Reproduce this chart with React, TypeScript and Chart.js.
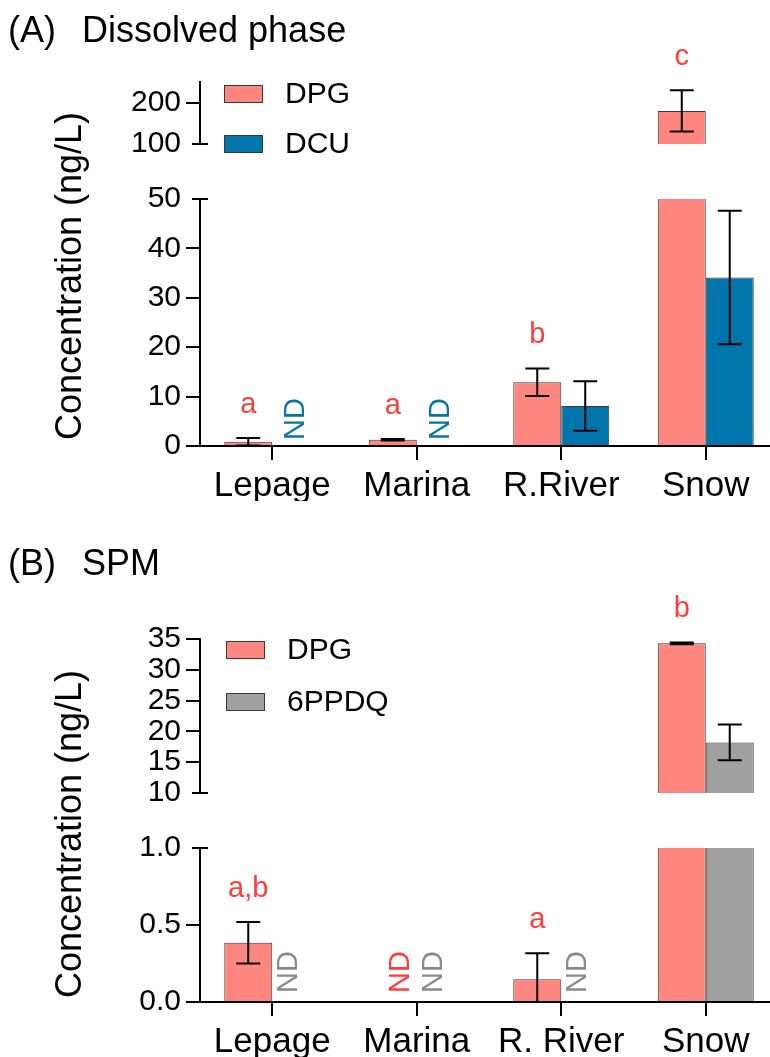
import React, { useEffect, useRef } from 'react';
import { Chart, registerables } from 'chart.js';

Chart.register(...registerables);

// ---------------- data ----------------
const categoriesA = ['Lepage', 'Marina', 'R.River', 'Snow'];
const dpgA = [0.85, 1.25, 12.9, 180];
const dpgSdA = [0.75, 0.15, 2.8, 50];
const dcuA = [null, null, 8.1, 34.1];
const dcuSdA = [0, 0, 5.0, 13.5];
const lettersA = ['a', 'a', 'b', 'c'];
const upperTicksA = [100, 200];
const lowerTicksA = [0, 10, 20, 30, 40, 50];

const categoriesB = ['Lepage', 'Marina', 'R. River', 'Snow'];
const dpgB = [0.385, null, 0.147, 34.3];
const dpgSdB = [0.135, 0, 0.17, 0.15];
const ppdqB = [null, null, null, 18.2];
const ppdqSdB = [0, 0, 0, 2.9];
const lettersB = ['a,b', '', 'a', 'b'];
const upperTicksB = [10, 15, 20, 25, 30, 35];
const lowerTicksB = [0, 0.5, 1.0];

// ---------------- styles ----------------
const FONT = "'Liberation Sans', Arial, Helvetica, sans-serif";
const COLOR_DPG = '#FF8780';
const COLOR_DCU = '#0075AB';
const COLOR_PPDQ = '#A0A0A0';
const RED_TEXT = '#FF3B3B';
const GRAY_TEXT = '#8A8A8A';
const BLUE_TEXT = '#0A74A8';

const CANVAS_W = 780;
const CANVAS_H = 1057;
const PLOT_LEFT = 200;
const PLOT_RIGHT = 778;
const Y_AXIS_W = 100;
const X_AXIS_H = 55;
const CAT_PCT = 0.664;

const panelA = {
  tag: '(A)',
  title: 'Dissolved phase',
  titleBaseline: 42,
  categories: categoriesA,
  series: [
    { label: 'DPG', values: dpgA, sd: dpgSdA, color: COLOR_DPG, ndColor: RED_TEXT },
    { label: 'DCU', values: dcuA, sd: dcuSdA, color: COLOR_DCU, ndColor: BLUE_TEXT },
  ],
  letters: lettersA,
  upper: { top: 82, bottom: 144, min: 100, max: 250, ticks: upperTicksA, decimals: 0 },
  lower: { top: 199, bottom: 446, min: 0, max: 50, ticks: lowerTicksA, decimals: 0 },
  legend: { x: 224, y: 94, gap: 50 },
  yTitleY: 276,
  nd: { shift: [0, 0], lift: 6 },
};

const panelB = {
  tag: '(B)',
  title: 'SPM',
  titleBaseline: 575,
  categories: categoriesB,
  series: [
    { label: 'DPG', values: dpgB, sd: dpgSdB, color: COLOR_DPG, ndColor: RED_TEXT },
    { label: '6PPDQ', values: ppdqB, sd: ppdqSdB, color: COLOR_PPDQ, ndColor: GRAY_TEXT },
  ],
  letters: lettersB,
  upper: { top: 639, bottom: 793, min: 10, max: 35, ticks: upperTicksB, decimals: 0 },
  lower: { top: 848, bottom: 1002, min: 0, max: 1, ticks: lowerTicksB, decimals: 1 },
  legend: { x: 226, y: 650, gap: 52 },
  yTitleY: 834,
  nd: { shift: [8, -7], lift: 9 },
};

type Panel = typeof panelA;

function drawDecor(chart: any, p: Panel, isLower: boolean) {
  const ctx: CanvasRenderingContext2D = chart.ctx;
  const area = chart.chartArea;
  const ys = chart.scales.y;
  const xs = chart.scales.x;
  const seg = isLower ? p.lower : p.upper;
  const n = p.categories.length;
  const catW = (xs.right - xs.left) / n;
  const bw = (catW * CAT_PCT) / p.series.length;
  const barX = (di: number, i: number) =>
    xs.getPixelForValue(i) + (di - (p.series.length - 1) / 2) * bw;

  // error bars
  ctx.save();
  ctx.beginPath();
  ctx.rect(area.left, area.top - 1, area.right - area.left, area.bottom - area.top + 2);
  ctx.clip();
  ctx.strokeStyle = '#000';
  ctx.lineWidth = 2;
  p.series.forEach((s, di) => {
    s.values.forEach((v: number | null, i: number) => {
      if (v == null) return;
      const sd = s.sd[i];
      if (!sd) return;
      const x = barX(di, i);
      const yt = ys.getPixelForValue(v + sd);
      const yb = ys.getPixelForValue(v - sd);
      ctx.beginPath();
      ctx.moveTo(x, yt);
      ctx.lineTo(x, yb);
      ctx.moveTo(x - 12, yt);
      ctx.lineTo(x + 12, yt);
      ctx.moveTo(x - 12, yb);
      ctx.lineTo(x + 12, yb);
      ctx.stroke();
    });
  });
  ctx.restore();

  // significance letters (DPG series)
  ctx.save();
  ctx.fillStyle = RED_TEXT;
  ctx.font = `29px ${FONT}`;
  ctx.textAlign = 'center';
  ctx.textBaseline = 'alphabetic';
  p.letters.forEach((t, i) => {
    const v = p.series[0].values[i];
    if (!t || v == null) return;
    const top = v + (p.series[0].sd[i] || 0);
    if (top < seg.min || top > seg.max) return;
    ctx.fillText(t, barX(0, i), ys.getPixelForValue(top) - 25);
  });
  ctx.restore();

  // break mark
  ctx.save();
  ctx.strokeStyle = '#000';
  ctx.lineWidth = 2;
  const by = isLower ? area.top : area.bottom;
  ctx.beginPath();
  ctx.moveTo(area.left - 8, by);
  ctx.lineTo(area.left + 8, by);
  ctx.stroke();
  ctx.restore();

  if (isLower) {
    // ND labels
    ctx.save();
    ctx.font = `29px ${FONT}`;
    ctx.textAlign = 'left';
    ctx.textBaseline = 'middle';
    p.series.forEach((s, di) => {
      s.values.forEach((v: number | null, i: number) => {
        if (v != null) return;
        ctx.save();
        ctx.fillStyle = s.ndColor;
        ctx.translate(barX(di, i) + p.nd.shift[di], area.bottom - p.nd.lift);
        ctx.rotate(-Math.PI / 2);
        ctx.fillText('ND', 0, 0);
        ctx.restore();
      });
    });
    ctx.restore();

    // y title
    ctx.save();
    ctx.fillStyle = '#000';
    ctx.font = `36px ${FONT}`;
    ctx.textAlign = 'center';
    ctx.textBaseline = 'middle';
    ctx.translate(71, p.yTitleY);
    ctx.rotate(-Math.PI / 2);
    ctx.fillText('Concentration (ng/L)', 0, 0);
    ctx.restore();
  } else {
    // legend
    ctx.save();
    ctx.font = `30px ${FONT}`;
    ctx.textAlign = 'left';
    ctx.textBaseline = 'middle';
    chart.data.datasets.forEach((ds: any, k: number) => {
      const cy = p.legend.y + k * p.legend.gap;
      ctx.fillStyle = ds.backgroundColor;
      ctx.fillRect(p.legend.x, cy - 9, 39, 18);
      ctx.strokeStyle = '#3a3a3a';
      ctx.lineWidth = 1;
      ctx.strokeRect(p.legend.x + 0.5, cy - 8.5, 38, 17);
      ctx.fillStyle = '#000';
      ctx.fillText(ds.label, p.legend.x + 61, cy + 1);
    });
    ctx.restore();

    // panel title
    ctx.save();
    ctx.fillStyle = '#000';
    ctx.font = `36px ${FONT}`;
    ctx.textAlign = 'left';
    ctx.textBaseline = 'alphabetic';
    ctx.fillText(p.tag, 8, p.titleBaseline);
    ctx.fillText(p.title, 82, p.titleBaseline);
    ctx.restore();
  }
}

function buildConfig(p: Panel, isLower: boolean): any {
  const seg = isLower ? p.lower : p.upper;
  const breakVal = isLower ? seg.max : seg.min;
  return {
    type: 'bar',
    data: {
      labels: p.categories,
      datasets: p.series.map((s) => ({
        label: s.label,
        data: s.values,
        backgroundColor: s.color,
        borderColor: '#3a3a3a',
        borderWidth: 1,
        clip: 0,
        categoryPercentage: CAT_PCT,
        barPercentage: 1,
      })),
    },
    options: {
      responsive: false,
      animation: false,
      devicePixelRatio: 1,
      layout: {
        padding: {
          left: PLOT_LEFT - Y_AXIS_W,
          right: CANVAS_W - PLOT_RIGHT,
          top: seg.top,
          bottom: CANVAS_H - seg.bottom - (isLower ? X_AXIS_H : 0),
        },
      },
      plugins: {
        legend: { display: false },
        tooltip: { enabled: false },
        title: { display: false },
      },
      scales: {
        x: {
          display: isLower,
          grid: {
            offset: false,
            drawOnChartArea: false,
            drawTicks: true,
            tickLength: 14,
            color: '#000',
            lineWidth: 2,
          },
          border: { display: true, color: '#000', width: 2, z: 1 },
          ticks: {
            color: '#000',
            font: { family: FONT, size: 35 },
            padding: 5,
            maxRotation: 0,
            autoSkip: false,
          },
          afterFit: (s: any) => {
            s.height = isLower ? X_AXIS_H : 0;
          },
        },
        y: {
          min: seg.min,
          max: seg.max,
          afterBuildTicks: (s: any) => {
            s.ticks = seg.ticks.map((v) => ({ value: v }));
          },
          grid: {
            drawOnChartArea: false,
            drawTicks: true,
            tickLength: 14,
            lineWidth: 2,
            color: (c: any) =>
              c.tick && Math.abs(c.tick.value - breakVal) < 1e-9 ? 'rgba(0,0,0,0)' : '#000',
          },
          border: { display: true, color: '#000', width: 2, z: 1 },
          ticks: {
            color: '#000',
            autoSkip: false,
            font: { family: FONT, size: 30 },
            padding: 5,
            callback: (v: any) => Number(v).toFixed(seg.decimals),
          },
          afterFit: (s: any) => {
            s.width = Y_AXIS_W;
          },
        },
      },
    },
    plugins: [
      {
        id: 'decor',
        afterDraw: (chart: any) => drawDecor(chart, p, isLower),
      },
    ],
  };
}

const SEGMENTS: [Panel, boolean][] = [
  [panelA, false],
  [panelA, true],
  [panelB, false],
  [panelB, true],
];

export default function App() {
  const canvases = useRef<(HTMLCanvasElement | null)[]>([]);

  useEffect(() => {
    const charts = SEGMENTS.map(([p, isLower], i) =>
      new Chart(canvases.current[i] as HTMLCanvasElement, buildConfig(p, isLower))
    );
    return () => charts.forEach((c) => c.destroy());
  }, []);

  return (
    <div
      style={{
        position: 'absolute',
        left: 0,
        top: 0,
        width: 770,
        height: 1057,
        overflow: 'hidden',
        background: '#fff',
      }}
    >
      {SEGMENTS.map((_, i) => (
        <canvas
          key={i}
          ref={(el) => {
            canvases.current[i] = el;
          }}
          width={CANVAS_W}
          height={CANVAS_H}
          style={{ position: 'absolute', left: 0, top: 0 }}
        />
      ))}
    </div>
  );
}
